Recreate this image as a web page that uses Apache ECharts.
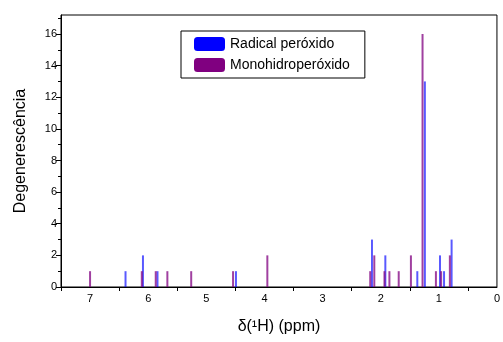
<!DOCTYPE html>
<html>
<head>
<meta charset="utf-8">
<script src="https://cdn.jsdelivr.net/npm/echarts@6/dist/echarts.min.js"></script>
<style>
	html, body { margin: 0; padding: 0; background: #fff; }
	#chart { width: 503px; height: 342px; }
</style>
</head>
<body>
<div id="chart"></div>
<script>
// shift (ppm) / degeneracy pairs
var radicalShift = [6.39, 6.09, 5.84, 4.49, 2.15, 1.92, 1.37, 1.24, 0.98, 0.91, 0.78];
var radicalDeg   = [1,    2,    1,    1,    3,    2,    1,    13,   2,    1,    3];
var hidroShift = [7.00, 6.11, 5.87, 5.67, 5.26, 4.54, 3.95, 2.18, 2.11, 1.935, 1.85, 1.69, 1.48, 1.28, 1.05, 0.96, 0.81];
var hidroDeg   = [1,    1,    1,    1,    1,    1,    2,    1,    2,    1,     1,    1,    2,    16,   1,    1,    2];
var xLabels = [0, 1, 2, 3, 4, 5, 6, 7];
var xTicks = [0.5, 1.5, 2.5, 3.5, 4.5, 5.5, 6.5, 7.5];
var yLabels = [0, 2, 4, 6, 8, 10, 12, 14, 16];

function pairs(xs, ys) {
	var out = [];
	for (var i = 0; i < xs.length; i++) out.push([xs[i], ys[i]]);
	return out;
}

var font = 'Liberation Sans, Arial, sans-serif';
var chart = echarts.init(document.getElementById('chart'), null, {renderer: 'canvas'});
chart.setOption({
	animation: false,
	textStyle: {fontFamily: font},
	grid: {left: 61, right: 4, top: 15, bottom: 55, show: true, borderColor: '#000', borderWidth: 1, backgroundColor: 'transparent'},
	legend: {
		left: 181, top: 31,
		orient: 'vertical',
		itemWidth: 31, itemHeight: 14, itemGap: 7,
		padding: [6, 15, 6, 13],
		borderColor: '#000', borderWidth: 1,
		textStyle: {fontSize: 14, color: '#000', fontFamily: font},
		data: [
			{name: 'Radical peróxido', itemStyle: {color: '#0000ff', opacity: 1}},
			{name: 'Monohidroperóxido', itemStyle: {color: '#800080', opacity: 1}}
		]
	},
	xAxis: {
		type: 'value', inverse: true, min: 0, max: 7.5,
		name: 'δ(¹H) (ppm)', nameLocation: 'middle', nameGap: 32,
		nameTextStyle: {fontSize: 16, color: '#000', fontFamily: font},
		axisLine: {onZero: false, lineStyle: {color: '#000', width: 1}},
		axisTick: {customValues: xTicks, length: 4, lineStyle: {color: '#000'}},
		axisLabel: {customValues: xLabels, fontSize: 11, color: '#000', margin: 6},
		splitLine: {show: false}
	},
	yAxis: {
		type: 'value', min: 0, max: 17.2, interval: 2,
		name: 'Degenerescência', nameLocation: 'middle', nameGap: 32,
		nameTextStyle: {fontSize: 16, color: '#000', fontFamily: font},
		// x axis is inverted, so keep the y axis off x = 0 (which is the right edge)
		axisLine: {show: true, onZero: false, lineStyle: {color: '#000', width: 1}},
		axisTick: {customValues: yLabels, length: 5, lineStyle: {color: '#000'}},
		minorTick: {show: true, splitNumber: 2, length: 3, lineStyle: {color: '#000'}},
		axisLabel: {customValues: yLabels, fontSize: 11, color: '#000', margin: 4},
		splitLine: {show: false},
		minorSplitLine: {show: false}
	},
	series: [
		{
			name: 'Radical peróxido', type: 'bar', barWidth: 2, barGap: '-100%',
			itemStyle: {color: '#0000ff', opacity: 0.65},
			data: pairs(radicalShift, radicalDeg)
		},
		{
			name: 'Monohidroperóxido', type: 'bar', barWidth: 2, barGap: '-100%',
			itemStyle: {color: '#800080', opacity: 0.75},
			data: pairs(hidroShift, hidroDeg)
		}
	]
});
</script>
</body>
</html>
